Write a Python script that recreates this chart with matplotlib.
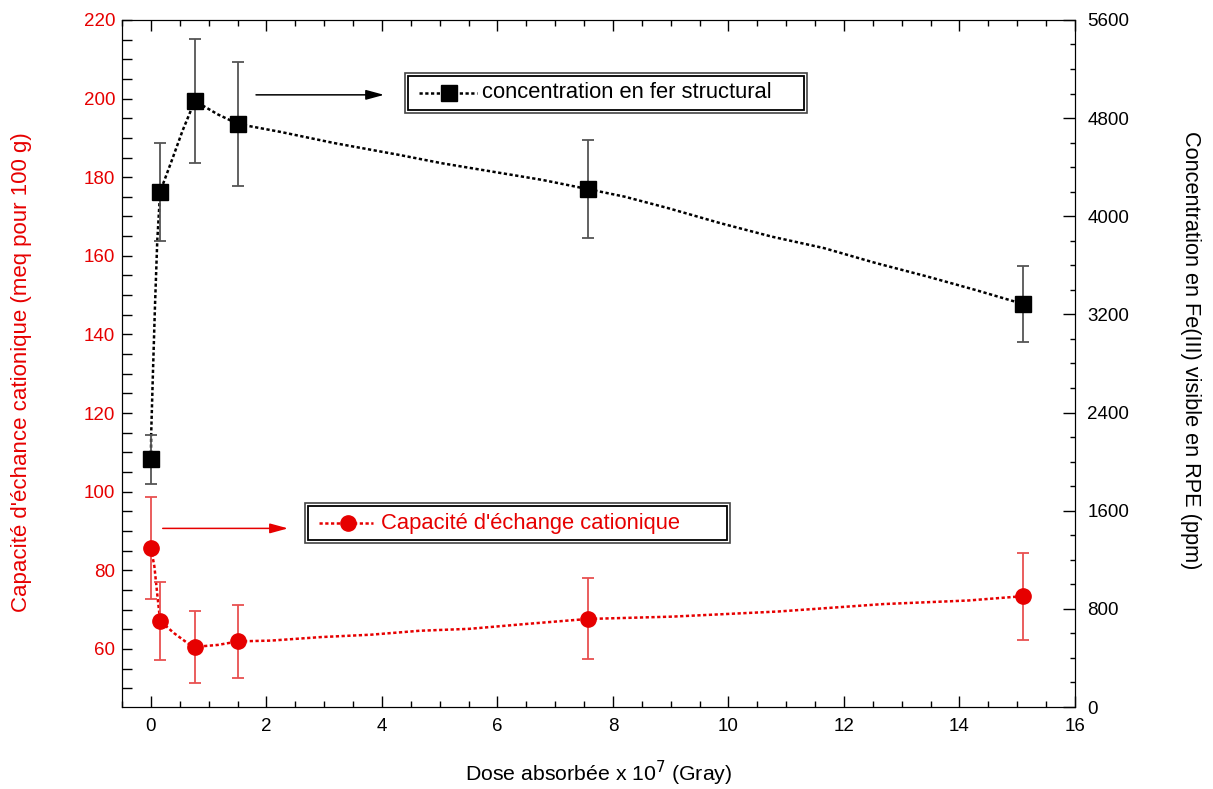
"""CEC et Fe(III) structural en fonction de la dose absorbée."""
import matplotlib
matplotlib.use("Agg")
import matplotlib.pyplot as plt
from matplotlib.patches import Rectangle
from matplotlib.ticker import MultipleLocator

plt.rcParams["font.family"] = ["Liberation Sans", "DejaVu Sans"]

RED = "#e60000"

# points mesurés
dose = [0, 0.16, 0.76, 1.51, 7.56, 15.1]
fe = [2020, 4200, 4940, 4752, 4222, 3285]
fe_err = [200, 400, 505, 503, 400, 310]
cec = [85.7, 67.1, 60.5, 61.9, 67.6, 73.4]
cec_err = [13.0, 10.0, 9.1, 9.2, 10.3, 11.1]

# courbes lissées
fe_curve_x = [0, 0.005, 0.035, 0.07, 0.11, 0.16, 0.35, 0.55, 0.76, 1.16, 1.51,
              2.25, 3.17, 4.30, 5.04, 6.78, 7.56, 8.2, 8.95, 9.85, 10.75,
              11.65, 12.55, 13.45, 14.28, 15.1]
fe_curve_y = [2020, 2230, 2720, 3260, 3800, 4200, 4440, 4700, 4940, 4830, 4752,
              4687, 4597, 4500, 4432, 4296, 4222, 4160, 4067, 3945, 3834,
              3741, 3619, 3508, 3399, 3285]
cec_curve_x = [0, 0.06, 0.12, 0.16, 0.40, 0.64, 0.76, 1.16, 1.51, 2.08, 2.95,
               3.81, 4.65, 5.52, 6.47, 7.56, 9.03, 10.86, 12.69, 14.15, 15.1]
cec_curve_y = [85.7, 81.0, 72.5, 67.1, 64.0, 61.4, 60.5, 61.0, 61.9, 62.1, 63.0,
               63.6, 64.6, 65.1, 66.3, 67.6, 68.2, 69.5, 71.4, 72.3, 73.4]

fig, ax = plt.subplots(figsize=(12.13, 7.89), dpi=100)
fig.subplots_adjust(left=0.1006, right=0.8862, top=0.9747, bottom=0.1039)
ax2 = ax.twinx()

dots = (0, (1.3, 1.0))

# CEC (axe gauche, rouge)
ax.plot(cec_curve_x, cec_curve_y, color=RED, lw=1.8, ls=dots, zorder=2)
ax.errorbar(dose, cec, yerr=cec_err, fmt="none", ecolor="#e85050",
            elinewidth=1.3, capsize=4, capthick=1.3, zorder=3)
ax.plot(dose, cec, "o", color=RED, ms=11, zorder=4)

# Fe(III) (axe droit, noir)
ax2.plot(fe_curve_x, fe_curve_y, color="black", lw=1.8, ls=dots, zorder=2)
ax2.errorbar(dose, fe, yerr=fe_err, fmt="none", ecolor="#555555",
             elinewidth=1.3, capsize=4, capthick=1.3, zorder=3)
ax2.plot(dose, fe, "s", color="black", ms=12, zorder=4)

ax.set_xlim(-0.5, 16)
ax.set_ylim(45.2, 220)
ax2.set_ylim(0, 5600)

ax.xaxis.set_major_locator(MultipleLocator(2))
ax.xaxis.set_minor_locator(MultipleLocator(0.5))
ax.yaxis.set_major_locator(MultipleLocator(20))
ax.yaxis.set_minor_locator(MultipleLocator(5))
ax2.yaxis.set_major_locator(MultipleLocator(800))
ax2.yaxis.set_minor_locator(MultipleLocator(200))

ax.tick_params(axis="x", which="both", direction="in", top=True,
               labelsize=13.5, pad=8)
ax.tick_params(axis="x", which="major", length=8, width=1)
ax.tick_params(axis="x", which="minor", length=4, width=1)
ax.tick_params(axis="y", which="both", direction="in", length=7.5, width=1,
               labelsize=13.5, labelcolor=RED, pad=5)
ax2.tick_params(axis="y", which="both", direction="in", labelsize=13.5, pad=9)
ax2.tick_params(axis="y", which="major", length=8.5, width=1)
ax2.tick_params(axis="y", which="minor", length=3.6, width=1)

ax.set_xlabel("Dose absorbée x 10$^7$ (Gray)", fontsize=15.3, va="center")
ax.xaxis.set_label_coords(0.5, -0.096)
ax.set_ylabel("Capacité d'échance cationique (meq pour 100 g)", fontsize=16,
              color=RED, va="center")
ax.yaxis.set_label_coords(-0.105, 0.488)
ax2.set_ylabel("Concentration en Fe(III) visible en RPE (ppm)", fontsize=15.7,
               rotation=270, va="center")
ax2.yaxis.set_label_coords(1.121, 0.52)


def legend_box(x0, x1, y0, y1, x_line, x_mark, x_text, y, marker, color, label):
    dx, dy = 3 / 953, 3 / 687
    ax.add_patch(Rectangle((x0, y0), x1 - x0, y1 - y0, transform=ax.transAxes,
                           fill=True, fc="white", ec="#444444", lw=1.2, zorder=5))
    ax.add_patch(Rectangle((x0 + dx, y0 + dy), x1 - x0 - 2 * dx, y1 - y0 - 2 * dy,
                           transform=ax.transAxes, fill=False, ec="black",
                           lw=1.3, zorder=6))
    ax.plot(x_line, [y, y], transform=ax.transAxes, color=color, lw=1.8,
            ls=dots, zorder=7)
    ax.plot([x_mark], [y], marker, transform=ax.transAxes, color=color,
            ms=11, zorder=8)
    ax.text(x_text, y, label, transform=ax.transAxes, color=color,
            fontsize=15.8, va="center", ha="left", zorder=8)


legend_box(0.297, 0.719, 0.865, 0.923, [0.3116, 0.3725], 0.343, 0.3778,
           0.894, "s", "black", "concentration en fer structural")
legend_box(0.192, 0.638, 0.239, 0.297, [0.207, 0.2637], 0.2374, 0.2718,
           0.2674, "o", RED, "Capacité d'échange cationique")

# flèches vers les légendes
ax.annotate("", xy=(0.275, 0.891), xytext=(0.1406, 0.891),
            xycoords="axes fraction",
            arrowprops=dict(arrowstyle="-|>,head_length=1.1,head_width=0.3",
                            color="black", lw=1.1, shrinkA=0, shrinkB=0))
ax.annotate("", xy=(0.1742, 0.260), xytext=(0.0427, 0.260),
            xycoords="axes fraction",
            arrowprops=dict(arrowstyle="-|>,head_length=1.1,head_width=0.3",
                            color=RED, lw=1.1, shrinkA=0, shrinkB=0))

fig.savefig("out.png", dpi=100)
